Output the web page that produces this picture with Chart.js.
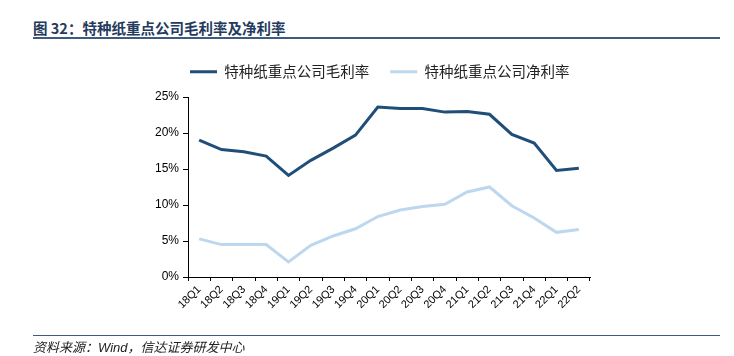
<!DOCTYPE html>
<html><head><meta charset="utf-8">
<script src="https://cdn.jsdelivr.net/npm/chart.js@4.4.0/dist/chart.umd.min.js"></script>
<style>
html,body{margin:0;padding:0;background:#fff;}
#wrap{position:relative;width:734px;height:356px;overflow:hidden;}
#title{position:absolute;left:33px;top:17px;font-family:"Noto Sans CJK SC",sans-serif;font-weight:bold;font-size:14.5px;color:#243b5e;white-space:nowrap;}
#tline{position:absolute;left:33px;top:37px;width:687px;height:1.5px;background:#3f5a7f;}
#fline{position:absolute;left:33px;top:335px;width:687px;height:1px;background:#3f5a7f;}
#foot{position:absolute;left:33px;top:337px;font-family:"Noto Sans CJK SC",sans-serif;font-style:italic;font-size:13px;color:#222;white-space:nowrap;}
canvas{position:absolute;left:0;top:0;}
</style></head>
<body><div id="wrap">
<div id="title">图 32：特种纸重点公司毛利率及净利率</div>
<div id="tline"></div>
<canvas id="c" width="734" height="356"></canvas>
<div id="fline"></div>
<div id="foot">资料来源：<span style="font-family:'Liberation Sans',sans-serif;">Wind</span>，信达证券研发中心</div>
</div>
<script>
const categories = ["18Q1","18Q2","18Q3","18Q4","19Q1","19Q2","19Q3","19Q4","20Q1","20Q2","20Q3","20Q4","21Q1","21Q2","21Q3","21Q4","22Q1","22Q2"];
const grossMargin = [19.0,17.7,17.4,16.8,14.1,16.2,17.9,19.7,23.6,23.4,23.4,22.9,23.0,22.6,19.8,18.6,14.8,15.1];
const netMargin = [5.3,4.5,4.5,4.5,2.1,4.4,5.7,6.7,8.4,9.3,9.8,10.1,11.8,12.5,9.9,8.2,6.2,6.6];
const seriesNames = ["特种纸重点公司毛利率","特种纸重点公司净利率"];
const yTicks = [0,5,10,15,20,25];

const LEGEND_PAD = 21;
const legendPlace = {
  id:'legendPlace',
  afterLayout(chart){
    const lg = chart.legend, ca = chart.chartArea;
    if(!lg || !lg.lineWidths) return;
    const lw = lg.lineWidths[0];
    const start = 190;
    lg.right = ca.right + 120;
    lg.left = 2*start - LEGEND_PAD + lw - lg.right;
    lg.width = lg.right - lg.left;
    lg.top -= 8; lg.bottom -= 8;
  }
};

new Chart(document.getElementById('c'), {
  type: 'line',
  data: {
    labels: categories,
    datasets: [
      {label: seriesNames[0], data: grossMargin, borderColor:'#1f4e79', backgroundColor:'#1f4e79', borderWidth:3, pointRadius:0, tension:0},
      {label: seriesNames[1], data: netMargin, borderColor:'#bdd7ee', backgroundColor:'#bdd7ee', borderWidth:3, pointRadius:0, tension:0}
    ]
  },
  plugins:[legendPlace],
  options: {
    responsive:false, animation:false,
    layout:{padding:{top:34,right:144,left:0,bottom:0}},
    plugins:{
      tooltip:{enabled:false},
      legend:{
        position:'top', fullSize:true,
        labels:{
          boxWidth:27, boxHeight:3, padding:LEGEND_PAD, color:'#222',
          font:{family:'"Noto Sans CJK SC", sans-serif', size:14.5},
          generateLabels:(chart)=>chart.data.datasets.map((d,i)=>({text:d.label, fillStyle:d.borderColor, strokeStyle:d.borderColor, lineWidth:0, datasetIndex:i, fontColor:'#222'}))
        }
      }
    },
    scales:{
      x:{
        offset:true,
        grid:{display:true, drawOnChartArea:false, drawTicks:true, tickLength:4, color:'#000', offset:true},
        border:{display:true, color:'#000', width:1},
        ticks:{minRotation:45, maxRotation:45, autoSkip:false, color:'#000', padding:2, font:{family:'"Liberation Sans", Arial, sans-serif', size:11}},
        afterFit:(s)=>{s.height=79;}
      },
      y:{
        min:0, max:25,
        afterBuildTicks:(s)=>{s.ticks=yTicks.map(v=>({value:v}));},
        grid:{display:true, drawOnChartArea:false, drawTicks:true, tickLength:5, color:'#000'},
        border:{display:true, color:'#000', width:1},
        ticks:{color:'#000', padding:4, callback:(v)=>v+'%', font:{family:'"Liberation Sans", Arial, sans-serif', size:12}},
        afterFit:(s)=>{s.width=188; s.paddingTop=97;}
      }
    }
  }
});
</script>
</body></html>
